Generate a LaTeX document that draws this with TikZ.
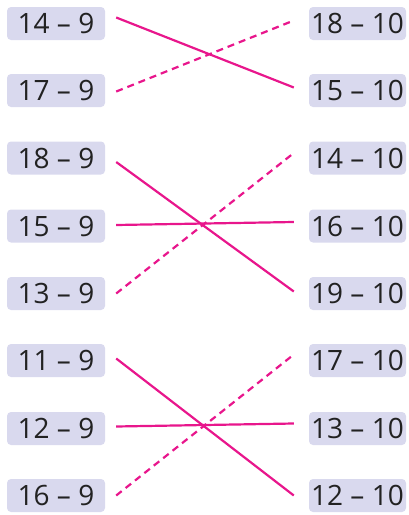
\documentclass[tikz,border=0pt]{standalone}
\usepackage{fontspec}
\setmainfont{Open Sans}
\definecolor{boxfill}{HTML}{D9D9EE}
\definecolor{lnk}{HTML}{E8168C}
\definecolor{txt}{HTML}{222222}
\tikzset{
  exbox/.style={fill=boxfill, rounded corners=4pt, minimum height=33pt, inner sep=0pt, text=txt, font=\fontsize{28}{30}\selectfont},
  lbox/.style={exbox, minimum width=98pt},
  rbox/.style={exbox, minimum width=97pt},
  solidlink/.style={draw=lnk, line width=2.2pt},
  dashlink/.style={draw=lnk, line width=2.2pt, dash pattern=on 7pt off 5pt}
}
\begin{document}
\begin{tikzpicture}[x=1pt,y=-1pt]
\useasboundingbox (0,0) rectangle (408,515);
% left column
\node[lbox] (l1) at (56,23.5) {14 -- 9};
\node[lbox] (l2) at (56,90.5) {17 -- 9};
\node[lbox] (l3) at (56,158) {18 -- 9};
\node[lbox] (l4) at (56,226) {15 -- 9};
\node[lbox] (l5) at (56,293.5) {13 -- 9};
\node[lbox] (l6) at (56,360.5) {11 -- 9};
\node[lbox] (l7) at (56,428.5) {12 -- 9};
\node[lbox] (l8) at (56,495.5) {16 -- 9};
% right column
\node[rbox] (r1) at (357.5,23.5) {18 -- 10};
\node[rbox] (r2) at (357.5,90.5) {15 -- 10};
\node[rbox] (r3) at (357.5,158) {14 -- 10};
\node[rbox] (r4) at (357.5,226) {16 -- 10};
\node[rbox] (r5) at (357.5,293.5) {19 -- 10};
\node[rbox] (r6) at (357.5,360.5) {17 -- 10};
\node[rbox] (r7) at (357.5,428.5) {13 -- 10};
\node[rbox] (r8) at (357.5,495.5) {12 -- 10};
% connectors
\draw[solidlink] ([shift={(11,-6)}]l1.east) -- ([shift={(-15,-3)}]r2.west);
\draw[dashlink]  ([shift={(11,1)}]l2.east) -- ([shift={(-15,-3)}]r1.west);
\draw[solidlink] ([shift={(11,4)}]l3.east) -- ([shift={(-15,-2)}]r5.west);
\draw[solidlink] ([shift={(11,-1)}]l4.east) -- ([shift={(-15,-4)}]r4.west);
\draw[dashlink]  ([shift={(11,0)}]l5.east) -- ([shift={(-15,-5)}]r3.west);
\draw[solidlink] ([shift={(11,-2)}]l6.east) -- ([shift={(-15,0)}]r8.west);
\draw[solidlink] ([shift={(11,-2)}]l7.east) -- ([shift={(-15,-5)}]r7.west);
\draw[dashlink]  ([shift={(11,0)}]l8.east) -- ([shift={(-15,-6)}]r6.west);
\end{tikzpicture}
\end{document}
